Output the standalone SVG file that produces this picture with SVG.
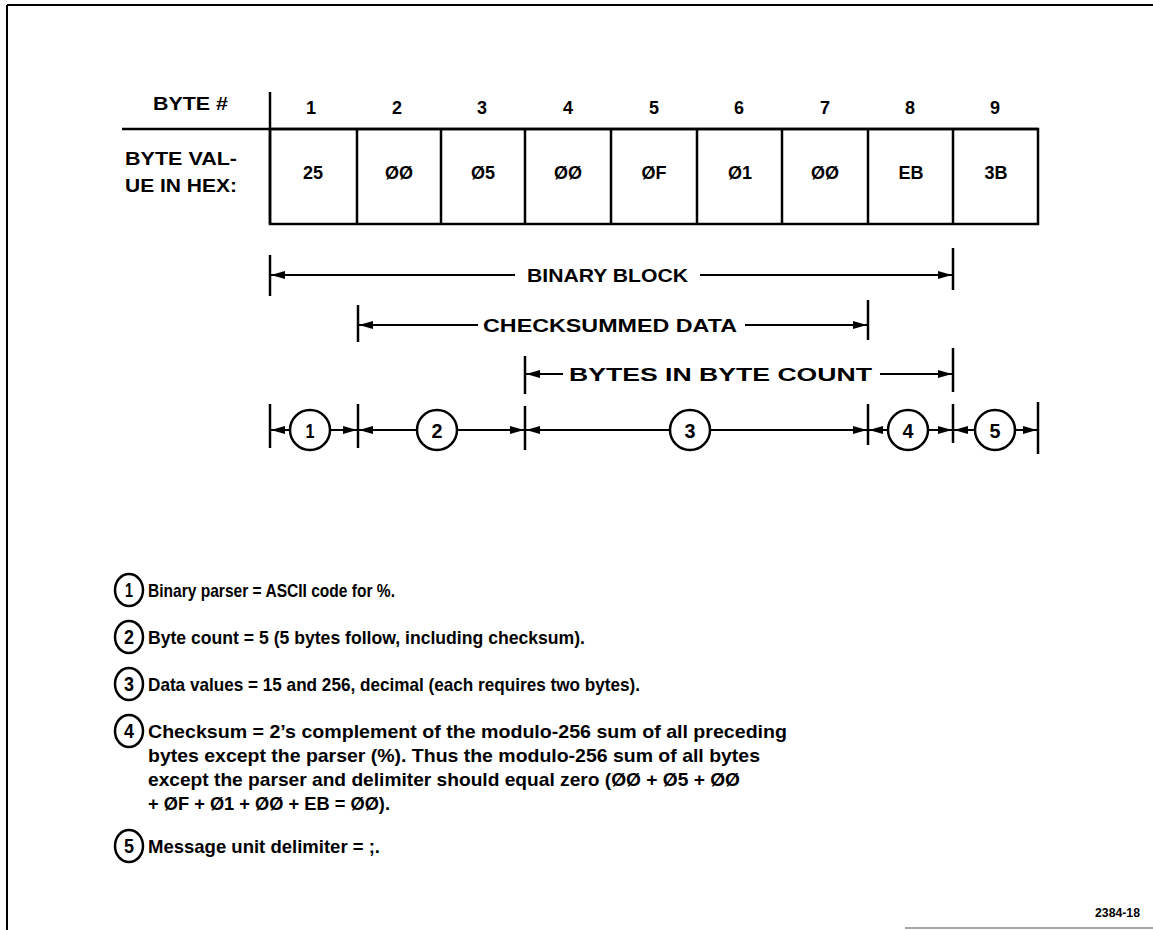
<svg xmlns="http://www.w3.org/2000/svg" width="1153" height="930" viewBox="0 0 1153 930">
<style>
text{font-family:"Liberation Sans",Arial,sans-serif;font-weight:bold;fill:#000}
.hd{font-size:18px}
.cell{font-size:18px;text-anchor:middle}
.dim{font-size:18.5px}
.num{font-size:21px;text-anchor:middle}
.body{font-size:19px}
.lnum{font-size:20px;text-anchor:middle}
.ln{stroke:#000;stroke-width:2;fill:none}
.tk{stroke:#000;stroke-width:2.5;fill:none}
.circ{stroke:#000;stroke-width:2.5;fill:#fff}
</style>
<defs>
<marker id="ah" viewBox="0 0 14 8" refX="14" refY="4" markerWidth="14" markerHeight="8" markerUnits="userSpaceOnUse" orient="auto-start-reverse">
<path d="M0,0 L14,4 L0,8 Z" fill="#000"/>
</marker>
</defs>
<rect width="1153" height="930" fill="#fff"/>
<g id="frame">
<line x1="7" y1="5" x2="1153" y2="5" stroke="#000" stroke-width="2"/>
<line x1="7" y1="5" x2="7" y2="930" stroke="#000" stroke-width="2"/>
<line x1="905" y1="928" x2="1153" y2="928" stroke="#888" stroke-width="1.5"/>
</g>
<g id="table">
<text class="hd" x="153" y="110" textLength="75" lengthAdjust="spacingAndGlyphs">BYTE #</text>
<text class="hd" x="125" y="165" textLength="112" lengthAdjust="spacingAndGlyphs">BYTE VAL-</text>
<text class="hd" x="125" y="192" textLength="112" lengthAdjust="spacingAndGlyphs">UE IN HEX:</text>
<line class="tk" x1="270" y1="92" x2="270" y2="224"/>
<line class="tk" x1="122" y1="129" x2="1038" y2="129"/>
<rect x="270" y="129" width="768" height="95" class="tk"/>
<g class="tk">
<line x1="357" y1="129" x2="357" y2="224"/>
<line x1="441" y1="129" x2="441" y2="224"/>
<line x1="525" y1="129" x2="525" y2="224"/>
<line x1="611" y1="129" x2="611" y2="224"/>
<line x1="697" y1="129" x2="697" y2="224"/>
<line x1="782" y1="129" x2="782" y2="224"/>
<line x1="868" y1="129" x2="868" y2="224"/>
<line x1="953" y1="129" x2="953" y2="224"/>
</g>
<g class="cell">
<text x="311" y="114">1</text><text x="397" y="114">2</text><text x="482" y="114">3</text><text x="568" y="114">4</text><text x="654" y="114">5</text><text x="739" y="114">6</text><text x="825" y="114">7</text><text x="910" y="114">8</text><text x="995" y="114">9</text>
<text x="313" y="179">25</text><text x="399" y="179">ØØ</text><text x="483" y="179">Ø5</text><text x="568" y="179">ØØ</text><text x="654" y="179">ØF</text><text x="740" y="179">Ø1</text><text x="825" y="179">ØØ</text><text x="911" y="179">EB</text><text x="996" y="179">3B</text>
</g>
</g>
<g id="connectors">
<line class="tk" x1="270" y1="255" x2="270" y2="296"/>
<line class="tk" x1="953" y1="248" x2="953" y2="290"/>
<line class="ln" x1="515" y1="275" x2="271" y2="275" marker-end="url(#ah)"/>
<line class="ln" x1="700" y1="275" x2="952" y2="275" marker-end="url(#ah)"/>
<line class="tk" x1="358" y1="305" x2="358" y2="342"/>
<line class="tk" x1="868" y1="300" x2="868" y2="340"/>
<line class="ln" x1="478" y1="325" x2="359" y2="325" marker-end="url(#ah)"/>
<line class="ln" x1="745" y1="325" x2="867" y2="325" marker-end="url(#ah)"/>
<line class="tk" x1="525" y1="356" x2="525" y2="394"/>
<line class="tk" x1="953" y1="348" x2="953" y2="392"/>
<line class="ln" x1="563" y1="374" x2="526" y2="374" marker-end="url(#ah)"/>
<line class="ln" x1="880" y1="374" x2="952" y2="374" marker-end="url(#ah)"/>
<g class="tk">
<line x1="270" y1="404" x2="270" y2="448"/>
<line x1="358" y1="404" x2="358" y2="448"/>
<line x1="525" y1="406" x2="525" y2="450"/>
<line x1="868" y1="404" x2="868" y2="445"/>
<line x1="953" y1="404" x2="953" y2="443"/>
<line x1="1038" y1="402" x2="1038" y2="454"/>
</g>
<line class="ln" x1="290" y1="430" x2="271" y2="430" marker-end="url(#ah)"/>
<line class="ln" x1="330" y1="430" x2="357" y2="430" marker-end="url(#ah)"/>
<line class="ln" x1="417" y1="430" x2="359" y2="430" marker-end="url(#ah)"/>
<line class="ln" x1="457" y1="430" x2="524" y2="430" marker-end="url(#ah)"/>
<line class="ln" x1="670" y1="430" x2="526" y2="430" marker-end="url(#ah)"/>
<line class="ln" x1="710" y1="430" x2="867" y2="430" marker-end="url(#ah)"/>
<line class="ln" x1="888" y1="430" x2="869" y2="430" marker-end="url(#ah)"/>
<line class="ln" x1="928" y1="430" x2="952" y2="430" marker-end="url(#ah)"/>
<line class="ln" x1="975" y1="430" x2="954" y2="430" marker-end="url(#ah)"/>
<line class="ln" x1="1015" y1="430" x2="1037" y2="430" marker-end="url(#ah)"/>
</g>
<g id="labels">
<text class="dim" x="527" y="282" textLength="161" lengthAdjust="spacingAndGlyphs">BINARY BLOCK</text>
<text class="dim" x="483" y="332" textLength="254" lengthAdjust="spacingAndGlyphs">CHECKSUMMED DATA</text>
<text class="dim" x="569" y="381" textLength="303" lengthAdjust="spacingAndGlyphs">BYTES IN BYTE COUNT</text>
</g>
<g id="seg1"><circle class="circ" cx="310" cy="430" r="20"/><text class="num" x="310" y="438" textLength="9" lengthAdjust="spacingAndGlyphs">1</text></g>
<g id="seg2"><circle class="circ" cx="437" cy="430" r="20"/><text class="num" x="437" y="438" textLength="11" lengthAdjust="spacingAndGlyphs">2</text></g>
<g id="seg3"><circle class="circ" cx="690" cy="430" r="20"/><text class="num" x="690" y="438" textLength="11" lengthAdjust="spacingAndGlyphs">3</text></g>
<g id="seg4"><circle class="circ" cx="908" cy="430" r="20"/><text class="num" x="908" y="438" textLength="11" lengthAdjust="spacingAndGlyphs">4</text></g>
<g id="seg5"><circle class="circ" cx="995" cy="430" r="20"/><text class="num" x="995" y="438" textLength="11" lengthAdjust="spacingAndGlyphs">5</text></g>
<g id="note1"><ellipse class="circ" cx="129" cy="590" rx="14" ry="16"/><text class="lnum" x="129" y="597" textLength="8" lengthAdjust="spacingAndGlyphs">1</text>
<text class="body" x="148" y="597" textLength="247" lengthAdjust="spacingAndGlyphs">Binary parser = ASCII code for %.</text></g>
<g id="note2"><ellipse class="circ" cx="129" cy="637" rx="14" ry="16"/><text class="lnum" x="129" y="644" textLength="10" lengthAdjust="spacingAndGlyphs">2</text>
<text class="body" x="148" y="644" textLength="437" lengthAdjust="spacingAndGlyphs">Byte count = 5 (5 bytes follow, including checksum).</text></g>
<g id="note3"><ellipse class="circ" cx="129" cy="684" rx="14" ry="16"/><text class="lnum" x="129" y="691" textLength="10" lengthAdjust="spacingAndGlyphs">3</text>
<text class="body" x="148" y="691" textLength="492" lengthAdjust="spacingAndGlyphs">Data values = 15 and 256, decimal (each requires two bytes).</text></g>
<g id="note4"><ellipse class="circ" cx="129" cy="731" rx="14" ry="16"/><text class="lnum" x="129" y="738" textLength="10" lengthAdjust="spacingAndGlyphs">4</text>
<text class="body" x="148" y="738" textLength="639" lengthAdjust="spacingAndGlyphs">Checksum = 2’s complement of the modulo-256 sum of all preceding</text>
<text class="body" x="148" y="762" textLength="612" lengthAdjust="spacingAndGlyphs">bytes except the parser (%). Thus the modulo-256 sum of all bytes</text>
<text class="body" x="148" y="786" textLength="592" lengthAdjust="spacingAndGlyphs">except the parser and delimiter should equal zero (ØØ + Ø5 + ØØ</text>
<text class="body" x="148" y="810" textLength="242" lengthAdjust="spacingAndGlyphs">+ ØF + Ø1 + ØØ + EB = ØØ).</text></g>
<g id="note5"><ellipse class="circ" cx="129" cy="846" rx="14" ry="16"/><text class="lnum" x="129" y="853" textLength="10" lengthAdjust="spacingAndGlyphs">5</text>
<text class="body" x="148" y="853" textLength="232" lengthAdjust="spacingAndGlyphs">Message unit delimiter = ;.</text></g>
<text x="1095" y="917" font-size="13" textLength="45" lengthAdjust="spacingAndGlyphs">2384-18</text>
</svg>
